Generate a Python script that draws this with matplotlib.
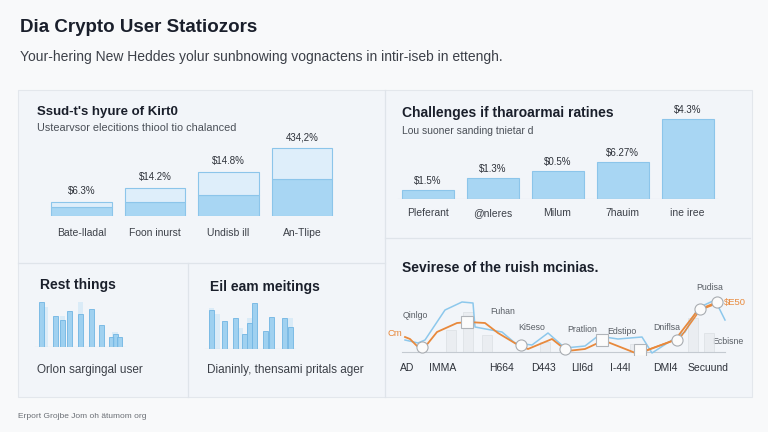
import numpy as np
import matplotlib.pyplot as plt
from matplotlib.patches import Rectangle

plt.rcParams['font.family'] = ['Liberation Sans', 'DejaVu Sans']

W, H = 768, 432

# ---------------------------------------------------------------- datos
title = "Dia Crypto User Statiozors"
subtitle = "Your-hering New Heddes yolur sunbnowing vognactens in intir-iseb in ettengh."
footer = "Erport Grojbe Jom oh ätumom org"

share_title = "Ssud-t's hyure of Kirt0"
share_sub = "Ustearvsor elecitions thiool tio chalanced"
share_labels = ["Bate-lladal", "Foon inurst", "Undisb ill", "An-Tlipe"]
share_total = [14, 28, 44, 68]
share_base = [9, 14, 21, 37]
share_text = ["$6.3%", "$14.2%", "$14.8%", "434,2%"]

chal_title = "Challenges if tharoarmai ratines"
chal_sub = "Lou suoner sanding tnietar d"
chal_labels = ["Pleferant", "@nleres", "Milum", "7hauim", "ine iree"]
chal_values = [9, 21, 28, 37, 80]
chal_text = ["$1.5%", "$1.3%", "$0.5%", "$6.27%", "$4.3%"]

rest_title = "Rest things"
rest_caption = "Orlon sargingal user"
rest_x = [11.5, 25, 32.5, 39.5, 50.5, 61, 71.5, 81, 85, 89]
rest_h = [45, 31, 27, 36, 33, 38, 22, 10, 13, 10]
rest_ghost_x = [15, 32.5, 50.5, 85]
rest_ghost_h = [40, 31, 45, 15]

meet_title = "Eil eam meitings"
meet_caption = "Dianinly, thensami pritals ager"
meet_x = [11.5, 24, 35, 44, 49.5, 54.5, 65, 71.5, 84.5, 90.5]
meet_h = [39, 28, 31, 15, 26, 46, 18, 32, 31, 22]
meet_ghost_x = [11.5, 17, 40, 49.5, 68, 90.5]
meet_ghost_h = [41, 35, 21, 31, 16, 31]

line_title = "Sevirese of the ruish mcinias."
line_ticks = ["AD", "IMMA", "H664", "D443", "Lll6d", "I-44l", "DMl4", "Secuund"]
line_tick_x = [12, 48, 107, 148, 187, 225, 270, 313]
orange_x = [10, 15, 23, 30, 42, 62, 73, 90, 103, 123, 133, 157, 172, 190, 203, 210, 243, 253, 280, 303, 320]
orange_y = [18, 16, 8, 8, 23, 32, 33, 32, 22, 10, 6, 16, 4, 6, 12, 14, 1, 5, 15, 45, 52]
orange2_x = [252, 285, 305, 318, 325]
orange2_y = [5, 17, 45, 50, 55]
blue_x = [10, 23, 30, 50, 67, 78, 80, 107, 120, 137, 153, 170, 190, 203, 223, 247, 257, 277, 290, 303, 320, 330]
blue_y = [15, 12, 15, 45, 53, 52, 28, 23, 12, 10, 22, 7, 9, 19, 16, 18, 2, 15, 23, 47, 55, 35]
ghost_x = [56, 73, 92, 150, 240, 298, 314]
ghost_h = [22, 40, 17, 10, 8, 34, 19]
circle_x = [27, 126, 170, 282, 305, 322]
circle_y = [8, 10, 6, 15, 46, 53]
box_x = [72, 207, 245]
box_y = [33, 15, 5]

# ---------------------------------------------------------------- figura
fig = plt.figure(figsize=(W / 100, H / 100), dpi=100)
fig.patch.set_facecolor('#f8f9fa')

bg = fig.add_axes([0, 0, 1, 1])
bg.set_xlim(0, W)
bg.set_ylim(H, 0)
bg.axis('off')


def px_axes(x0, y0, x1, y1):
    ax = fig.add_axes([x0 / W, 1 - y1 / H, (x1 - x0) / W, (y1 - y0) / H])
    ax.axis('off')
    return ax


# fondo de paneles y separadores
bg.add_patch(Rectangle((18, 90), 734, 307, facecolor='#f2f5f9', edgecolor='#e3e7ec', lw=0.8))
bg.plot([18, 385], [263, 263], color='#dfe4ea', lw=0.9)
bg.plot([385, 750], [238, 238], color='#dfe4ea', lw=0.9)
bg.plot([385, 385], [90, 397], color='#dfe4ea', lw=0.9)
bg.plot([188, 188], [263, 397], color='#dfe4ea', lw=0.9)

bg.text(20, 28, title, fontsize=13.5, fontweight='bold', color='#1a1f2b', va='center')
bg.text(20, 57, subtitle, fontsize=10, color='#3c4048', va='center')
bg.text(18, 416, footer, fontsize=6, color='#6b6f75', va='center')

bar_fc = '#a8d6f3'
bar_ec = '#8cc5ea'

# ---------------------------------------------------------------- panel 1
bg.text(37, 112, share_title, fontsize=9.5, fontweight='bold', color='#1a1f2b', va='center')
bg.text(37, 128, share_sub, fontsize=7.8, color='#4a4f57', va='center')
ax1 = px_axes(40, 130, 345, 216)
ax1.set_xlim(-0.565, 3.585)
ax1.set_ylim(0, 86)
idx = np.arange(len(share_total))
upper = np.array(share_total) - np.array(share_base)
ax1.bar(idx, share_base, width=0.82, color=bar_fc, edgecolor=bar_ec, lw=0.8)
ax1.bar(idx, upper, bottom=share_base, width=0.82, color='#deeefa', edgecolor=bar_ec, lw=0.8)
for i in idx:
    ax1.text(i, share_total[i] + 11, share_text[i], ha='center', va='center', fontsize=7, color='#2e323a')
    ax1.text(i, -17, share_labels[i], ha='center', va='center', fontsize=7.5, color='#3c4048', clip_on=False)

# ---------------------------------------------------------------- panel 2
bg.text(402, 113, chal_title, fontsize=10, fontweight='bold', color='#1a1f2b', va='center')
bg.text(402, 131, chal_sub, fontsize=7.5, color='#4a4f57', va='center')
ax2 = px_axes(395, 110, 720, 199)
ax2.set_xlim(-0.5, 4.5)
ax2.set_ylim(0, 89)
idx2 = np.arange(len(chal_values))
ax2.bar(idx2, chal_values, width=0.8, color=bar_fc, edgecolor=bar_ec, lw=0.8)
ax2.axhline(0, color='#c9cfd6', lw=0.8, xmin=0.01, xmax=0.99)
for i in idx2:
    ax2.text(i, chal_values[i] + 9, chal_text[i], ha='center', va='center', fontsize=7, color='#2e323a')
    ax2.text(i, -14, chal_labels[i], ha='center', va='center', fontsize=7.5, color='#3c4048', clip_on=False)

# ---------------------------------------------------------------- panel 3 y 4 (mini barras)
def mini_bars(x0, y0, name, caption, xs, hs, gx, gh):
    bg.text(x0 + 10, y0 - 62, name, fontsize=10, fontweight='bold', color='#1a1f2b', va='center')
    bg.text(x0 + 7, 370, caption, fontsize=8.5, color='#3c4048', va='center')
    ax = px_axes(x0, y0 - 55, x0 + 100, y0)
    ax.set_xlim(0, 100)
    ax.set_ylim(0, 55)
    ax.bar(gx, gh, width=5.5, color='#d4e9f7', alpha=0.8)
    ax.bar(xs, hs, width=5, color='#97cdf0', edgecolor='#74b7e4', lw=0.7, alpha=0.9)
    ax.axhline(0, xmin=0.05, xmax=0.95, color='#b7c0c9', lw=0.8)


mini_bars(30, 347, rest_title, rest_caption, rest_x, rest_h, rest_ghost_x, rest_ghost_h)
mini_bars(200, 349, meet_title, meet_caption, meet_x, meet_h, meet_ghost_x, meet_ghost_h)

# ---------------------------------------------------------------- panel 5 (lineas)
bg.text(402, 268, line_title, fontsize=10, fontweight='bold', color='#1a1f2b', va='center')
ax5 = px_axes(395, 285, 735, 355)
ax5.set_xlim(0, 340)
ax5.set_ylim(0, 70)
ax5.bar(ghost_x, ghost_h, width=10, bottom=3, color='#e8ebef', edgecolor='#dadee3', lw=0.6, alpha=0.8)
ax5.axhline(3, xmin=0.02, xmax=0.97, color='#c4cad1', lw=0.8)
ax5.plot(blue_x, blue_y, color='#8dc8ec', lw=1.1)
ax5.plot(orange_x, orange_y, color='#e8893c', lw=1.3)
ax5.plot(orange2_x, orange2_y, color='#e8893c', lw=1.1)
ax5.plot(circle_x, circle_y, 'o', ms=8, mfc='#fbfbfb', mec='#a8acb1', mew=0.8)
ax5.plot(box_x, box_y, 's', ms=8, mfc='#fbfbfb', mec='#b0b4b9', mew=0.8)
for t, x in zip(line_ticks, line_tick_x):
    ax5.text(x, -13, t, ha='center', va='center', fontsize=7.5, color='#2e323a', clip_on=False)

notes = ["Qinlgo", "Fuhan", "Ki5eso", "Pratlion", "Edstipo", "Dniflsa", "Pudisa", "Ecbisne"]
note_px = [415, 503, 532, 582, 622, 667, 710, 728]
note_py = [315, 311, 328, 329, 332, 328, 287, 341]
for t, x, y in zip(notes, note_px, note_py):
    bg.text(x, y, t, ha='center', va='center', fontsize=6.3, color='#5a5f66')
bg.text(395, 333, "Cm", ha='center', va='center', fontsize=6.8, color='#e8893c', zorder=5)
bg.text(735, 302, "$E50", ha='center', va='center', fontsize=6.8, color='#e8893c', zorder=5)

fig.savefig('out.png', dpi=100, facecolor=fig.get_facecolor())
